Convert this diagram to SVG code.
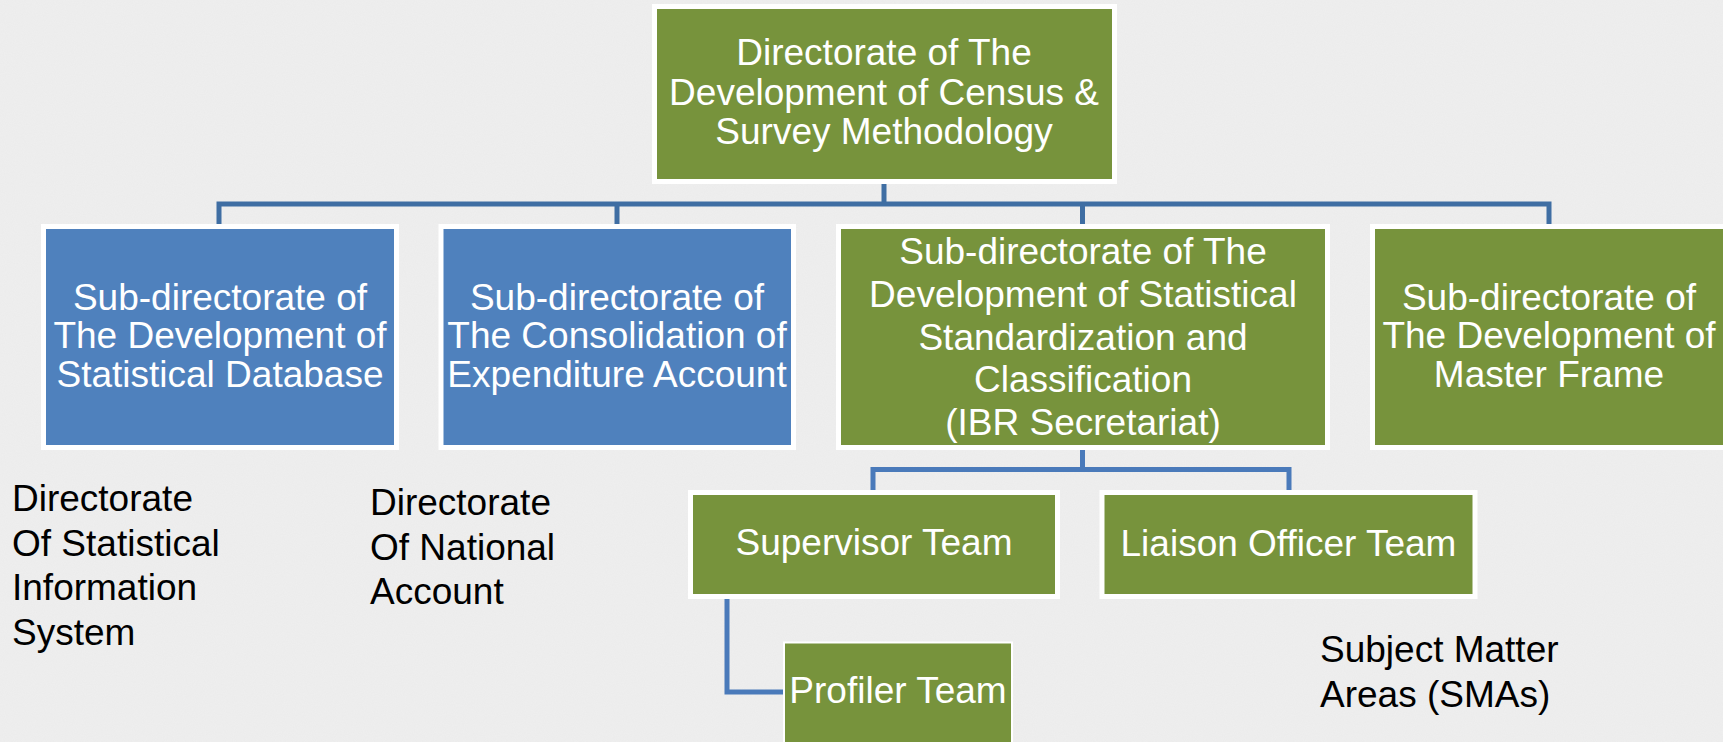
<svg xmlns="http://www.w3.org/2000/svg" width="1723" height="742" viewBox="0 0 1723 742">
  <defs>
    <style>
      .frame { fill: #ffffff; }
      .green { fill: #77933c; }
      .blue { fill: #4f81bd; }
      .lbl { font-family: "Liberation Sans", Arial, sans-serif; font-size: 37px; fill: #ffffff; text-anchor: middle; }
      .note { font-family: "Liberation Sans", Arial, sans-serif; font-size: 37px; fill: #000000; }
      .conn { fill: none; stroke: #3f6ea3; stroke-width: 5; stroke-linejoin: miter; }
      .conn2 { fill: none; stroke: #4a7aba; stroke-width: 5; stroke-linejoin: miter; }
    </style>
    <filter id="paper" x="0" y="0" width="100%" height="100%">
      <feTurbulence type="fractalNoise" baseFrequency="0.9" numOctaves="2" seed="3" result="n"/>
      <feColorMatrix type="matrix" values="0 0 0 0 0.5  0 0 0 0 0.5  0 0 0 0 0.5  0 0 0 0.08 0" />
    </filter>
  </defs>

  <rect x="0" y="0" width="1723" height="742" fill="#efefef"/>
  <rect x="0" y="0" width="1723" height="742" filter="url(#paper)"/>

  <g id="connectors">
    <path class="conn" d="M884,184 V204"/>
    <path class="conn" d="M219,224 V204 H1549 V224"/>
    <path class="conn" d="M617,204 V224"/>
    <path class="conn" d="M1082.5,204 V224"/>
    <path class="conn2" d="M1082.5,449 V469.5"/>
    <path class="conn2" d="M873,490 V469.5 H1289 V490"/>
    <path class="conn2" d="M727,598 V692 H785"/>
  </g>

  <g id="node-top">
    <rect class="frame" x="652" y="4" width="465" height="180"/>
    <rect class="green" x="657" y="9" width="455" height="170"/>
    <text class="lbl" x="884" y="65">Directorate of The</text>
    <text class="lbl" x="884" y="104.5">Development of Census &amp;</text>
    <text class="lbl" x="884" y="143.5">Survey Methodology</text>
  </g>

  <g id="node-database">
    <rect class="frame" x="41" y="224" width="358" height="226"/>
    <rect class="blue" x="46" y="229" width="348" height="216"/>
    <text class="lbl" x="220" y="309.5">Sub-directorate of</text>
    <text class="lbl" x="220" y="348">The Development of</text>
    <text class="lbl" x="220" y="386.5">Statistical Database</text>
  </g>

  <g id="node-expenditure">
    <rect class="frame" x="438.5" y="224" width="357.5" height="226"/>
    <rect class="blue" x="443.5" y="229" width="347.5" height="216"/>
    <text class="lbl" x="617" y="309.5">Sub-directorate of</text>
    <text class="lbl" x="617" y="348">The Consolidation of</text>
    <text class="lbl" x="617" y="386.5">Expenditure Account</text>
  </g>

  <g id="node-standardization">
    <rect class="frame" x="836" y="224" width="494" height="226"/>
    <rect class="green" x="841" y="229" width="484" height="216"/>
    <text class="lbl" x="1083" y="264">Sub-directorate of The</text>
    <text class="lbl" x="1083" y="307">Development of Statistical</text>
    <text class="lbl" x="1083" y="349.5">Standardization and</text>
    <text class="lbl" x="1083" y="392">Classification</text>
    <text class="lbl" x="1083" y="434.5">(IBR Secretariat)</text>
  </g>

  <g id="node-masterframe">
    <rect class="frame" x="1370" y="224" width="358" height="226"/>
    <rect class="green" x="1375" y="229" width="348" height="216"/>
    <text class="lbl" x="1549" y="309.5">Sub-directorate of</text>
    <text class="lbl" x="1549" y="348">The Development of</text>
    <text class="lbl" x="1549" y="386.5">Master Frame</text>
  </g>

  <g id="node-supervisor">
    <rect class="frame" x="688" y="490" width="372" height="109"/>
    <rect class="green" x="693" y="495" width="362" height="99"/>
    <text class="lbl" x="874" y="555">Supervisor Team</text>
  </g>

  <g id="node-liaison">
    <rect class="frame" x="1099.5" y="490" width="378" height="109"/>
    <rect class="green" x="1104.5" y="495" width="368" height="99"/>
    <text class="lbl" x="1288.5" y="555.5">Liaison Officer Team</text>
  </g>

  <g id="node-profiler">
    <rect class="frame" x="783" y="641.5" width="230" height="110"/>
    <rect class="green" x="785" y="643.5" width="226" height="110"/>
    <text class="lbl" x="898" y="703">Profiler Team</text>
  </g>

  <g id="note-sis">
    <text class="note" x="12" y="511">Directorate</text>
    <text class="note" x="12" y="555.5">Of Statistical</text>
    <text class="note" x="12" y="600">Information</text>
    <text class="note" x="12" y="644.5">System</text>
  </g>

  <g id="note-na">
    <text class="note" x="370" y="515">Directorate</text>
    <text class="note" x="370" y="559.5">Of National</text>
    <text class="note" x="370" y="604">Account</text>
  </g>

  <g id="note-sma">
    <text class="note" x="1320" y="662">Subject Matter</text>
    <text class="note" x="1320" y="707">Areas (SMAs)</text>
  </g>
</svg>
